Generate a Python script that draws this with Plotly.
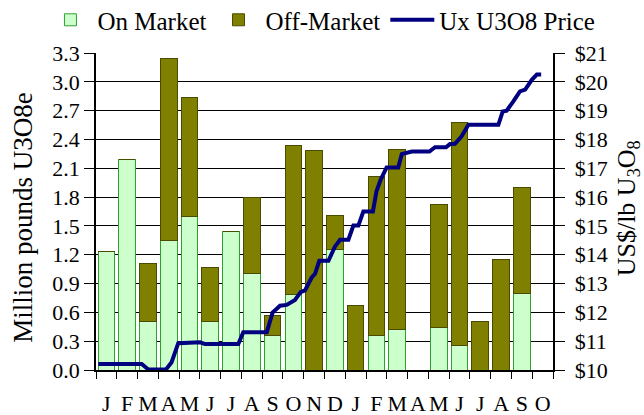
import plotly.graph_objects as go

months = ["J", "F", "M", "A", "M", "J", "J", "A", "S", "O", "N", "D",
          "J", "F", "M", "A", "M", "J", "J", "A", "S", "O"]
on_market = [1.23, 2.19, 0.50, 1.35, 1.60, 0.50, 1.44, 1.00, 0.36, 0.79, 0.00, 1.25,
             0.00, 0.36, 0.42, 0.00, 0.44, 0.26, 0.00, 0.00, 0.80, 0.00]
off_market = [0.00, 0.00, 0.61, 1.89, 1.24, 0.57, 0.00, 0.80, 0.21, 1.55, 2.28, 0.36,
              0.67, 1.65, 1.88, 0.00, 1.28, 2.32, 0.50, 1.15, 1.10, 0.00]

# Ux U3O8 spot price, x in fractional month index
price_x = [-0.39, 1.70, 2.02, 2.87, 3.14, 3.46, 4.51, 4.75, 6.35, 6.59, 7.72,
           8.00, 8.36, 8.68, 9.08, 9.35, 9.56, 9.89, 10.04, 10.25, 10.69, 11.00,
           11.25, 11.65, 11.89, 12.13, 12.37, 12.83, 13.00, 13.20, 13.49, 14.05,
           14.22, 14.46, 14.70, 15.55, 15.82, 16.35, 16.54, 16.78, 17.10, 17.43,
           18.87, 19.08, 19.27, 19.59, 19.91, 20.16, 20.48, 20.72, 20.93]
price_y = [10.21, 10.21, 10.02, 10.02, 10.27, 10.93, 10.96, 10.90, 10.90, 11.31, 11.31,
           11.99, 12.23, 12.26, 12.43, 12.70, 12.76, 13.22, 13.33, 13.79, 13.79, 14.28,
           14.52, 14.52, 15.01, 15.01, 15.50, 15.50, 16.19, 16.60, 17.03, 17.03,
           17.49, 17.55, 17.58, 17.58, 17.73, 17.73, 17.84, 17.85, 18.11, 18.51,
           18.51, 18.97, 19.00, 19.32, 19.67, 19.73, 20.07, 20.25, 20.25]

left_ticks = [0.0, 0.3, 0.6, 0.9, 1.2, 1.5, 1.8, 2.1, 2.4, 2.7, 3.0, 3.3]
right_ticks = list(range(10, 22))

left_labels = [f"{v:.1f}" for v in left_ticks]
right_labels = ["\u00a0$" + str(v) for v in right_ticks]

FONT = "Liberation Serif"
idx = list(range(len(months)))

fig = go.Figure()
fig.add_trace(go.Bar(x=idx, y=on_market, name="On Market",
                     marker=dict(color="#CCFFCC", line=dict(color="#2EA02E", width=1))))
fig.add_trace(go.Bar(x=idx, y=off_market, name="Off-Market",
                     marker=dict(color="#808000", line=dict(color="#4A4A00", width=1))))
fig.add_trace(go.Scatter(x=price_x, y=price_y, name="Ux U3O8 Price", yaxis="y2",
                         mode="lines", line=dict(color="#000080", width=4)))

fig.update_layout(
    template="none",
    width=644, height=415,
    margin=dict(l=96, r=91, t=53, b=45, autoexpand=False),
    paper_bgcolor="white", plot_bgcolor="white",
    barmode="stack", bargap=0.2,
    font=dict(family=FONT, size=22, color="black"),
    showlegend=True,
    legend=dict(orientation="h", x=-0.115, xanchor="left", y=1.104, yanchor="middle",
                font=dict(family=FONT, size=25), itemwidth=44, traceorder="normal",
                bgcolor="rgba(0,0,0,0)", borderwidth=0),
    xaxis=dict(range=[-0.5, 21.5], tickvals=idx, ticktext=months, tickangle=0,
               ticks="outside", ticklen=13, tickcolor="rgba(0,0,0,0)",
               minor=dict(tick0=-0.5, dtick=1, ticks="outside", ticklen=7,
                          tickcolor="black", tickwidth=1, showgrid=False),
               showline=True, linecolor="black", linewidth=1.5, automargin=False,
               showgrid=False, zeroline=False, tickfont=dict(family=FONT, size=22)),
    yaxis=dict(range=[0, 3.3], tickvals=left_ticks, ticktext=left_labels,
               ticks="outside", ticklen=10, tickcolor="black", tickwidth=1,
               showline=True, linecolor="black", linewidth=1.5, automargin=False,
               showgrid=True, gridcolor="black", gridwidth=1, zeroline=False,
               tickfont=dict(family=FONT, size=22)),
    yaxis2=dict(range=[10, 21], tickvals=right_ticks, ticktext=right_labels,
                overlaying="y", side="right",
                ticks="outside", ticklen=10, tickcolor="black", tickwidth=1,
                showline=True, linecolor="black", linewidth=1.5, automargin=False,
                showgrid=False, zeroline=False,
                tickfont=dict(family=FONT, size=22)),
    annotations=[
        dict(text="Million pounds U3O8e", xref="paper", yref="paper",
             x=0, y=0.48, xshift=-73, xanchor="center", yanchor="middle",
             textangle=-90, showarrow=False, font=dict(family=FONT, size=27)),
        dict(text="US$/lb U<sub>3</sub>O<sub>8</sub>", xref="paper", yref="paper",
             x=1, y=0.51, xshift=75, xanchor="center", yanchor="middle",
             textangle=-90, showarrow=False, font=dict(family=FONT, size=26)),
    ],
)

fig.write_html("out.html", config={"displayModeBar": False},
               post_script="document.body.style.margin='0px';document.body.style.padding='0px';")
